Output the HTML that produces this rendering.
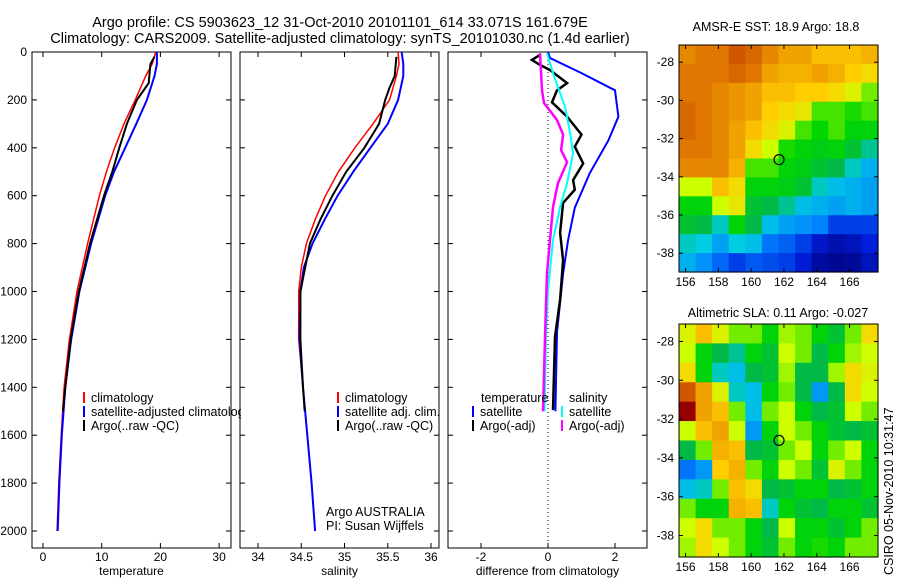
<!DOCTYPE html>
<html><head><meta charset="utf-8"><style>
body{margin:0;background:#fff}
svg{display:block;font-family:"Liberation Sans",sans-serif;font-size:12px}
</style></head><body>
<svg id="c" width="900" height="580" viewBox="0 0 900 580">
<defs><clipPath id="clipT"><rect x="0" y="0" width="241" height="580"/></clipPath></defs>
<rect width="900" height="580" fill="#fff"/>
<text x="340" y="27" text-anchor="middle" style="font-size:14.5px">Argo profile: CS 5903623_12 31-Oct-2010 20101101_614 33.071S 161.679E</text>
<text x="340" y="43" text-anchor="middle" style="font-size:14.5px">Climatology: CARS2009. Satellite-adjusted climatology: synTS_20101030.nc (1.4d earlier)</text>
<text x="776" y="31" text-anchor="middle" style="font-size:12.5px">AMSR-E SST: 18.9 Argo: 18.8</text>
<text x="778" y="317" text-anchor="middle" style="font-size:12.5px">Altimetric SLA: 0.11 Argo: -0.027</text>
<text transform="translate(893,575) rotate(-90)" style="font-size:12.5px">CSIRO 05-Nov-2010 10:31:47</text>
<text x="326" y="516" style="font-size:12.5px">Argo AUSTRALIA</text>
<text x="326" y="530" style="font-size:12.5px">PI: Susan Wijffels</text>
</svg>
<script>
// ---- profile data ----
const tDepClim=[0,50,100,200,300,400,500,600,800,1000,1200,1400,1600,1800,2000];
const tClim=[19.2,18.6,17.5,15.7,13.8,12.2,10.8,9.6,7.6,5.8,4.5,3.6,3.1,2.7,2.4];
const tSat=[19.4,19.4,19.0,17.7,15.9,14.0,12.1,10.6,8.2,6.2,4.8,3.8,3.2,2.8,2.5];
const tDepArgo=[20,50,130,200,300,400,500,600,800,1000,1200,1400,1500];
const tArgo=[19.0,18.3,18.0,16.0,14.3,13.0,11.8,10.4,8.0,6.1,4.7,3.8,3.4];
const sDepClim=[0,50,100,200,300,400,500,600,700,800,900,1000,1200,1400,1600,1800,2000];
const sClim=[35.62,35.63,35.6,35.52,35.33,35.12,34.93,34.78,34.66,34.56,34.5,34.47,34.47,34.52,34.57,34.62,34.66];
const sSat=[35.66,35.68,35.68,35.62,35.5,35.3,35.1,34.92,34.77,34.63,34.53,34.49,34.48,34.52,34.57,34.62,34.66];
const sDepArgo=[20,100,150,200,300,400,500,600,700,800,1000,1200,1400,1500];
const sArgo=[35.6,35.58,35.52,35.47,35.4,35.23,35.02,34.86,34.72,34.6,34.49,34.49,34.52,34.54];
// differences from climatology
const dDepSatT=[0,25,88,160,270,370,505,650,785,925,1170,1500];
const dSatT=[0.0,0.06,1.0,2.0,2.1,1.8,1.25,0.8,0.6,0.45,0.27,0.22];
const dDepArgoT=[12,33,54,75,130,160,210,270,345,395,465,535,575,630,755,870,1035,1190,1495];
const dArgoT=[-0.24,-0.48,-0.24,0.06,0.57,0.27,0.12,0.57,1.0,0.8,1.05,0.75,0.8,0.45,0.36,0.45,0.36,0.21,0.15];
const dDepSatS=[5,88,230,338,422,547,647,785,994,1190,1500];
const dSatS=[-0.03,0.15,0.51,0.66,0.75,0.57,0.36,0.15,0.0,-0.06,-0.1];
const dDepArgoS=[5,160,213,284,345,410,460,547,647,785,923,1190,1500];
const dArgoS=[-0.24,-0.18,-0.12,0.27,0.45,0.39,0.57,0.3,0.15,0.06,-0.03,-0.09,-0.15];
const depthTicks=[0,200,400,600,800,1000,1200,1400,1600,1800,2000];
const tTicks=[0,10,20,30];
const sTicks=[34,34.5,35,35.5,36];
const dTicks=[-2,0,2];
// ---- map data (colormap index 0..1) ----
const lonTicks=[156,158,160,162,164,166];
const latTicks=[-28,-30,-32,-34,-36,-38];
const sstGrid=[
[.84,.86,.86,.9,.88,.84,.8,.8,.76,.76,.76,.78],
[.86,.86,.86,.88,.86,.8,.78,.78,.8,.78,.74,.72],
[.86,.86,.84,.82,.8,.76,.76,.74,.74,.72,.68,.62],
[.88,.86,.84,.82,.8,.74,.72,.7,.6,.6,.58,.6],
[.88,.86,.84,.8,.76,.72,.68,.6,.57,.6,.56,.56],
[.86,.86,.84,.8,.72,.66,.58,.56,.55,.56,.52,.45],
[.84,.84,.84,.78,.6,.6,.56,.55,.52,.5,.42,.36],
[.66,.66,.76,.72,.56,.56,.55,.52,.42,.38,.36,.34],
[.56,.56,.66,.7,.52,.5,.45,.38,.36,.34,.36,.34],
[.52,.5,.42,.56,.5,.38,.34,.32,.3,.2,.2,.2],
[.42,.4,.34,.4,.38,.28,.25,.2,.12,.08,.1,.15],
[.36,.32,.26,.2,.24,.22,.2,.14,.06,.04,.05,.1]];
const slaGrid=[
[.68,.76,.68,.62,.62,.56,.64,.62,.56,.52,.62,.72],
[.66,.56,.5,.45,.56,.52,.66,.62,.5,.56,.64,.66],
[.72,.56,.42,.38,.5,.52,.64,.5,.5,.64,.72,.68],
[.9,.8,.68,.42,.38,.56,.62,.5,.33,.5,.72,.66],
[1,.8,.76,.62,.38,.62,.66,.56,.5,.52,.66,.62],
[.66,.76,.8,.66,.33,.56,.66,.62,.56,.52,.5,.52],
[.5,.62,.78,.76,.5,.52,.62,.66,.56,.62,.66,.56],
[.28,.33,.74,.78,.62,.56,.66,.62,.52,.68,.62,.56],
[.38,.42,.62,.76,.72,.5,.52,.56,.56,.5,.52,.56],
[.62,.56,.56,.78,.76,.42,.56,.52,.5,.56,.56,.52],
[.66,.72,.62,.62,.56,.5,.66,.56,.56,.52,.56,.62],
[.64,.72,.66,.62,.56,.52,.62,.56,.58,.56,.62,.62]];
const floatLon=161.7, floatLat=-33.1;

const NS='http://www.w3.org/2000/svg';
const svg=document.getElementById('c');
function mk(tag,attrs,parent){const e=document.createElementNS(NS,tag);for(const k in attrs)e.setAttribute(k,attrs[k]);(parent||svg).appendChild(e);return e;}
const Y0=52,YB=548;
const yD=d=>Y0+d*0.2395;

function panel(name,x0,x1,xs,ticks,labels,showY,title){
  const g=mk('g',{});
  
  
  const r=mk('rect',{x:x0,y:Y0,width:x1-x0,height:YB-Y0,fill:'none',stroke:'#000'},g);
  
  
  ticks.forEach((v,i)=>{const x=xs(v);
    mk('line',{x1:x,x2:x,y1:Y0,y2:Y0+5,stroke:'#000'},g);
    mk('line',{x1:x,x2:x,y1:YB,y2:YB-5,stroke:'#000'},g);
    const t=mk('text',{x:x,y:YB+13,'text-anchor':'middle'},g);t.textContent=labels[i];
    
    
  });
  depthTicks.forEach(d=>{const y=yD(d);
    mk('line',{x1:x0,x2:x0+5,y1:y,y2:y,stroke:'#000'},g);
    mk('line',{x1:x1,x2:x1-5,y1:y,y2:y,stroke:'#000'},g);
    if(showY){const t=mk('text',{x:x0-5,y:y+4,'text-anchor':'end'},g);t.textContent=d;
      
      }
  });
  const t=mk('text',{x:(x0+x1)/2,y:YB+27,'text-anchor':'middle'},g);t.textContent=title;
  
  
  return g;
}
function line(g,name,deps,vals,xs,color,w){
  const pts=deps.map((d,i)=>xs(vals[i]).toFixed(1)+','+yD(d).toFixed(1)).join(' ');
  const p=mk('polyline',{points:pts,fill:'none',stroke:color,'stroke-width':w},g);
  
  
}
function legend(g,x,y,color,label,name){
  const l=mk('line',{x1:x,x2:x,y1:y-10,y2:y+1,stroke:color,'stroke-width':2},g);
  
  
  const t=mk('text',{x:x+7,y:y,style:'font-size:12.5px'},g);t.textContent=label;
  
  
}
// temperature
const xT=v=>43+v*5.87;
const gT=panel('temperature-panel',32,231,xT,tTicks,['0','10','20','30'],true,'temperature');
line(gT,'temp-climatology-line',tDepClim,tClim,xT,'#f00',1.5);
line(gT,'temp-satellite-line',tDepClim,tSat,xT,'#00f',2);
line(gT,'temp-argo-line',tDepArgo,tArgo,xT,'#000',2);
const gL=mk('g',{'clip-path':'url(#clipT)'});


legend(gL,84,402,'#f00','climatology','legend-climatology');
legend(gL,84,416,'#00f','satellite-adjusted climatology','legend-satellite');
legend(gL,84,430,'#000','Argo(..raw -QC)','legend-argo');
// salinity
const xS=v=>258+(v-34)*86.5;
const gS=panel('salinity-panel',240,439,xS,sTicks,['34','34.5','35','35.5','36'],false,'salinity');
line(gS,'sal-climatology-line',sDepClim,sClim,xS,'#f00',1.5);
line(gS,'sal-satellite-line',sDepClim,sSat,xS,'#00f',2);
line(gS,'sal-argo-line',sDepArgo,sArgo,xS,'#000',2);
legend(gS,338,402,'#f00','climatology','legend-sal-climatology');
legend(gS,338,416,'#00f','satellite adj. clim.','legend-sal-satellite');
legend(gS,338,430,'#000','Argo(..raw -QC)','legend-sal-argo');
// difference
const xDf=v=>548+v*33.5;
const gD=panel('difference-panel',448,647,xDf,dTicks,['-2','0','2'],false,'difference from climatology');
mk('line',{x1:xDf(0),x2:xDf(0),y1:Y0,y2:YB,stroke:'#000','stroke-dasharray':'1,3'},gD);
line(gD,'diff-sat-temp-line',dDepSatT,dSatT,xDf,'#00f',2);
line(gD,'diff-argo-temp-line',dDepArgoT,dArgoT,xDf,'#000',2.5);
line(gD,'diff-sat-sal-line',dDepSatS,dSatS,xDf,'#0ff',2);
line(gD,'diff-argo-sal-line',dDepArgoS,dArgoS,xDf,'#f0f',2.5);
let tt=mk('text',{x:481,y:402,style:'font-size:12.5px'},gD);tt.textContent='temperature';


tt=mk('text',{x:569,y:402,style:'font-size:12.5px'},gD);tt.textContent='salinity';


legend(gD,473,416,'#00f','satellite','legend-diff-sat-temp');
legend(gD,473,430,'#000','Argo(-adj)','legend-diff-argo-temp');
legend(gD,562,416,'#0ff','satellite','legend-diff-sat-sal');
legend(gD,562,430,'#f0f','Argo(-adj)','legend-diff-argo-sal');

// maps
const cStops=[[0,[0,0,120]],[.15,[0,30,220]],[.3,[0,130,255]],[.4,[0,205,225]],[.5,[0,185,70]],[.57,[0,215,0]],[.66,[205,255,0]],[.74,[255,205,0]],[.84,[230,135,0]],[.92,[200,70,0]],[1,[150,0,0]]];
function cmap(v){
  v=Math.max(0,Math.min(1,v));
  for(let i=1;i<cStops.length;i++){
    if(v<=cStops[i][0]){const a=cStops[i-1],b=cStops[i],f=(v-a[0])/(b[0]-a[0]);
      return 'rgb('+a[1].map((c,k)=>Math.round(c+(b[1][k]-c)*f)).join(',')+')';}
  }
  return 'rgb(150,0,0)';
}
function map(name,x0,y0,w,h,lon0,lat0,px,py,grid){
  const g=mk('g',{});
  
  
  const R=grid.length,C=grid[0].length,cw=w/C,ch=h/R;
  grid.forEach((row,i)=>row.forEach((v,j)=>{
    const r=mk('rect',{x:(x0+j*cw).toFixed(2),y:(y0+i*ch).toFixed(2),width:(cw+0.6).toFixed(2),height:(ch+0.6).toFixed(2),fill:cmap(v)},g);
    
    
  }));
  const fr=mk('rect',{x:x0,y:y0,width:w,height:h,fill:'none',stroke:'#000'},g);
  
  
  const lx=l=>x0+(l-lon0)*px, ly=l=>y0+(lat0-l)*py;
  lonTicks.forEach(l=>{const x=lx(l);
    mk('line',{x1:x,x2:x,y1:y0,y2:y0+4,stroke:'#000'},g);
    mk('line',{x1:x,x2:x,y1:y0+h,y2:y0+h-4,stroke:'#000'},g);
    const t=mk('text',{x:x,y:y0+h+14,'text-anchor':'middle'},g);t.textContent=l;
    
    
  });
  latTicks.forEach(l=>{const y=ly(l);
    mk('line',{x1:x0,x2:x0+4,y1:y,y2:y,stroke:'#000'},g);
    mk('line',{x1:x0+w,x2:x0+w-4,y1:y,y2:y,stroke:'#000'},g);
    const t=mk('text',{x:x0-5,y:y+4,'text-anchor':'end'},g);t.textContent=l;
    
    
  });
  const c=mk('circle',{cx:lx(floatLon),cy:ly(floatLat),r:5,fill:'none',stroke:'#000','stroke-width':1.2},g);
  
  
}
map('sst-map',679,45,199,227,155.6,-27.1,16.4,19.1,sstGrid);
map('sla-map',679,324,199,233,155.6,-27.1,16.4,19.4,slaGrid);
</script>
</body></html>
